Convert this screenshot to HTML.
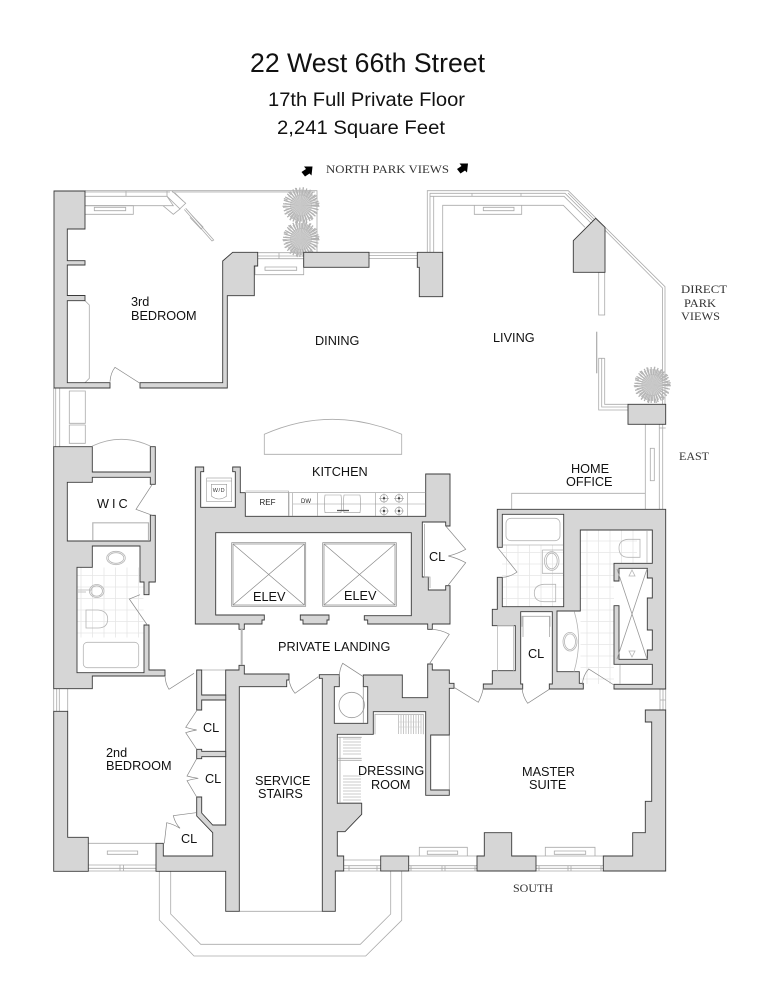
<!DOCTYPE html>
<html><head><meta charset="utf-8"><style>
html,body{margin:0;padding:0;background:#fff}
svg{display:block}
.w{fill:#d6d6d6;stroke:#3a3a3a;stroke-width:.9;fill-rule:evenodd}
.l{fill:none;stroke:#aaa;stroke-width:.8}
.d{fill:none;stroke:#888;stroke-width:.7}
.f{fill:#fff;stroke:#b5b5b5;stroke-width:.8}
.t{font-family:"Liberation Sans",sans-serif;font-size:12.7px;fill:#111}
.s{font-family:"Liberation Serif",serif;font-size:12px;fill:#333}
.k{fill:none;stroke:#bbb;stroke-width:.6}
</style></head><body>
<svg width="773" height="1000" viewBox="0 0 773 1000" xmlns="http://www.w3.org/2000/svg">
<defs>
<pattern id="tile" width="11.5" height="11.5" patternUnits="userSpaceOnUse"><path d="M0 .5H11.5M.5 0V11.5" stroke="#e6e6e6" stroke-width=".8" fill="none"/></pattern>
<g id="plant">
<circle r="11" fill="#d4d4d4"/>
<circle r="8" fill="none" stroke="#bdbdbd" stroke-width="16" stroke-dasharray=".8 .7"/>
<circle r="14" fill="none" stroke="#b0b0b0" stroke-width="8" stroke-dasharray="1 1.8"/>
<circle r="16.500" fill="none" stroke="#b5b5b5" stroke-width="4" stroke-dasharray="1.2 6"/>
</g>
</defs>
<rect width="773" height="1000" fill="#fff"/>

<!-- Titles -->
<text x="250" y="72" font-family="Liberation Sans,sans-serif" font-size="26.5" fill="#111" textLength="235" lengthAdjust="spacingAndGlyphs">22 West 66th Street</text>
<text x="268" y="106" font-family="Liberation Sans,sans-serif" font-size="19" fill="#111" textLength="197" lengthAdjust="spacingAndGlyphs">17th Full Private Floor</text>
<text x="277" y="134" font-family="Liberation Sans,sans-serif" font-size="19" fill="#111" textLength="168" lengthAdjust="spacingAndGlyphs">2,241 Square Feet</text>
<text class="s" x="326" y="173" textLength="123" lengthAdjust="spacingAndGlyphs">NORTH PARK VIEWS</text>
<polygon points="312.500,166.500 311.500,175.500 309.500,173.500 305,176.500 301.500,172 306,169 304,166.500" fill="#000"/>
<polygon points="468,163.500 467,172.500 465,170.500 460.500,173.500 457,169 461.500,166 459.500,163.500" fill="#000"/>
<text class="s" x="681" y="293" textLength="46" lengthAdjust="spacingAndGlyphs">DIRECT</text>
<text class="s" x="684" y="307" textLength="32" lengthAdjust="spacingAndGlyphs">PARK</text>
<text class="s" x="681" y="320" textLength="39" lengthAdjust="spacingAndGlyphs">VIEWS</text>
<text class="s" x="679" y="460">EAST</text>
<text class="s" x="513" y="892">SOUTH</text>

<!-- tile floors -->
<rect x="77.5" y="567.5" width="66" height="70" fill="url(#tile)"/>
<rect x="502" y="545" width="61.5" height="61.5" fill="url(#tile)"/>
<path d="M580.5 530H637V563H614V684H580.5Z" fill="url(#tile)"/>

<!-- North-west terrace and windows -->
<g class="l">
<path d="M171.7 190.7H317V252.3M172 192H315"/>
<path d="M85 190.7H171.7M85 192H170M85 196.3H167L173.3 205.7H85"/>
<path d="M126 191V196M167 191V196"/>
<path d="M85 205.7H133.3V214.3H85M94.3 207.3H125.7V210.7H94.3Z"/>
<path d="M167 196.3L180 209L173.3 214.3L163 205.7M171.7 190.7L185.7 203.3L179.3 209.3"/>
<path d="M175 193L183 201"/>
<path d="M185.7 208.3L213.7 240L212 241L184.3 209.5"/>
<path d="M192 215.5L203 227L201 229L190 217.5"/>
<path d="M257.7 252.7H303.7M257.7 256H303.7M257.7 258.7H303.7M279 253V258.7"/>
<path d="M255 266V274.7H303.7V258.7M265 267H296.7V270.3H265Z"/>
<path d="M369 252.7H417M369 255.5H417M369 258.5H417"/>
<path d="M427.3 252.3V190.7H568.3L665 286.7V404.3"/>
<path d="M430 252.3V193.3H565L604 232M662.5 404V288L568 193"/>
<path d="M433.7 252.3V196.3H564L593 225M430 196.3H433.7"/>
<path d="M442.7 252.3V205.3H563.3L585 227.3"/>
<path d="M474.3 205.3V214.3H521.7V205.3M483.3 207.3H514V210.7H483.3Z"/>
<path d="M472 193.3V196.3M521 193.3V196.3"/>
<rect x="598.7" y="272.3" width="6" height="42.7"/>
<path d="M604.7 358.3H598.7V410H628M604.7 358.3V404.3H628M601.7 358.5V407H628"/>
<path d="M645.3 424.3V509.3M659.3 424.3V509.3M662.7 424.3V509.3M659.3 428H665.7"/>
<rect x="650.3" y="448.3" width="4" height="32.4"/>
<path d="M511.7 509V493.3H645.3"/>
<path d="M264.3 454.3V434.3Q332 404.3 401.7 434.3V454.3H264.3Z"/>
<path d="M55.7 388V446.7M59.7 388V446.7M53.7 388V446.7"/>
<path d="M69.3 391H85.3V423.3H69.3ZM69.3 425H85.3V443.3H69.3Z"/>
<path d="M92.3 446Q121 432.6 150.3 446"/>
<path d="M53.7 689V711.3M56.7 689V711.3M59.3 689V711.3M67.7 689V711.3"/>
<path d="M88.3 843.3H156M107.3 851H137.7V854.3H107.3ZM88.3 865H156M88.3 868.3H156M88.3 871H156M120 865V871M123.5 865V871"/>
<path d="M159.3 871V920L194 956H365.7L401.7 920.3V871"/>
<path d="M170.7 871V914L200.7 944.3H360.3L390.7 914V871"/>
<path d="M239.3 911.3H322.3"/>
<path d="M201.7 670H225.7"/>
<path d="M344 860H380.7M344 865.7H380.7M344 868.3H380.7M344 871H380.7M349 865.7V871M377 865.7V871"/>
<path d="M408.7 856H477M408.7 865.7H477M408.7 868.3H477M408.7 871H477M411 865.7V871M442 865.7V871M445 865.7V871M475 865.7V871"/>
<path d="M536 856H603.3M536 865.7H603.3M536 868.3H603.3M536 871H603.3M539 865.7V871M568 865.7V871M571 865.7V871M601 865.7V871"/>
<path d="M419.3 856V847.3H467.3V856M427.3 851H457.7V854.3H427.3Z"/>
<path d="M545.3 856V847.3H595V856M554.3 851H585.7V854.3H554.3Z"/>
<path d="M660 689V710M663 689V710M665.7 689V710M660 700H665.7"/>
<path d="M430.7 735H449.3V790"/>
<path d="M85 300.7L89.3 305V378.3L85 382.7"/>
</g>
<path d="M596.7 331.7V373.3" stroke="#aaa" stroke-width="1.2" fill="none"/>

<!-- plants -->
<use href="#plant" x="301" y="205.5"/>
<use href="#plant" x="301" y="239"/>
<use href="#plant" x="652.300" y="385"/>

<!-- Walls -->
<path class="w" d="M54 191H85V229H67.3V260.7H85V265H67.3V295.5H85V300.7H67.3V382.7H110V388H54Z"/>
<path class="w" d="M140 382.7H222.7V261L232.7 252.3H257.7V266H254.3V295.7H227.3V388H140Z"/>
<rect class="w" x="303.7" y="252.3" width="65.3" height="15"/>
<path class="w" d="M417.3 252.3H442.7V296.7H419.3V267.3H417.3Z"/>
<path class="w" d="M595.7 218.3L605 227.3V272.3H573.3V240.7Z"/>
<rect class="w" x="628" y="404.3" width="37.7" height="20"/>

<path class="w" d="M53.7 446.7H92.3V472H150.3V446.7H155.3V484.3H150.3V477.3H92.3V482.3H67.3V541H150.3V515.3H155.3V582H149V594.7H144V582H140V546H92.3V567.3H77V672.7H144V625H149V670H165V676H92.3V688.7H53.7Z"/>

<path class="w" d="M195.3 624V467H203.7V471.7H200.7V507.3H235.3V471.7H232.7V467H240.3V492.7H245.3V516.3H425.7V474H450V526H445.7V522H422.3V577H428.3V590H445.7V585.7H450V624H432.3V629.3H427.7V624H367.7V620H364.3V615.7H411.3V532.7H215.7V615H264.3V620H262V624H244.3V629.3H239V624Z"/>
<path class="w" d="M300.3 615H329V620H327V624H303V620H300.3Z"/>

<path class="w" d="M225.7 670H239V665.3H244.3V674H289V680H286.7V686.7H239.3V911.3H225.7V871.3H156V843.3H163.3V856H212.7V832.7L196.7 816V797H201.7V813L212.7 825H225.7Z"/>
<path class="w" d="M196.7 670H201.7V695H225.7V700H201.7V710H196.7Z"/>
<path class="w" d="M196.7 749.3H201.7V751.3H225.7V756.7H201.7V758.7H196.7Z"/>
<path class="w" d="M53.7 711.3H67.7V837.3H88.3V871.3H53.7Z"/>

<path class="w" d="M319.3 674.7H339.3V686.7H334.3V723.3H367.7V686.7H363.3V675H402.3V697.7H427.7V664H432.3V670H449.3V683.3H454V688.3H449.3V735H430.7V790H449.3V795.3H425.7V711.7H373.3V734.3H337.3V803.3H361.7V814.3L345 831.7H337.3V856H343.7V871H335.3V911.3H322.3V678.3H319.3Z"/>

<rect class="w" x="380.7" y="856" width="28" height="15"/>
<path class="w" d="M477 871V856H484.3V832.7H511.7V856H536V871Z"/>
<path class="w" d="M645.3 710H665.7V871H603.3V856H632.7V832.7H645.3V801.3H651.7V722H645.3Z"/>

<path class="w" d="M497.3 509.3H665.7V689H614V684.3H652.3V664.3H614V605.7H619V659.3H647.3V650H652.3V630H647.3V598H652.3V578H647.3V568.3H619V581H614V563.3H652.3V530H580.3V611H557V671.7H579.3V683.3H583.3V689H549.3V684H552.3V611.7H520.7V684H522.7V689H483.3V684H492.3V670.7H515.3V625.7H492.3V609.3H497.3V577.3H502.3V606.7H563.7V514.3H502.3V547.3H497.3Z"/>

<!-- thick partition -->
<path d="M241.7 629V665" stroke="#b5b5b5" stroke-width="2" fill="none"/>
<path d="M92.8 540V522.8H148.5V540" stroke="#b5b5b5" stroke-width="1.2" fill="none"/>
<path d="M497.5 625.7V670.7" stroke="#bbb" stroke-width=".8" fill="none"/>
<path d="M497.5 625.7H513.5V670.7" stroke="#bbb" stroke-width=".8" fill="none"/>

<!-- Doors -->
<g class="d">
<path d="M110 381.7Q110.5 373 115 367.3L140 383.3"/>
<path d="M152.3 484.3L136 509.3L152.3 515.3"/>
<path d="M140 594.7L129.3 599L147.3 625"/>
<path d="M165 676Q165.5 684 169 689.3L194 673.3"/>
<path d="M445.7 526L465.7 549.3Q457 554 448.3 556Q457 558 465.7 562.7L448.3 585"/>
<path d="M432.3 629.3Q442 630 449.3 634.3L429.3 664"/>
<path d="M289 680Q290.5 688 295 693.3L318.3 676.7"/>
<path d="M339.3 676.7Q339.5 669 342.7 663.3L363.3 676.7"/>
<path d="M454 687.3L478.3 702.3Q482 695 483.3 688.3"/>
<path d="M522 688.3Q523 697 527.7 703.3L549.3 689.3"/>
<path d="M582.3 685Q583 675 588.7 669L614 685"/>
<path d="M497.3 547.3L517 572Q510 577 502.3 577.3"/>
<path d="M196.7 710.7L185.7 727.3Q191 729 196.7 730Q191 731 185.7 732.7L196.7 749.3"/>
<path d="M196.7 758.7L187 776Q192 777.5 198.3 778.3Q192 779 187 780.7L196.7 797"/>
<path d="M196 812.7L173.3 815.7Q175 823 180 828.3Q173 824 166.7 822.7L164.3 843.3"/>
</g>

<!-- Kitchen -->
<g class="k" style="stroke:#999">
<rect x="206.7" y="478" width="25" height="23.7"/>
<path d="M206.7 481H231.7"/>
<path d="M211.3 484.3H226.7V496Q219 502 211.3 496Z"/>
<path d="M245.3 492.7H425.7M245.5 491H288.5V516M292.7 492.7V516M317.7 492.7V516M289 492.7V516M292.7 504H425.7"/>
<path d="M375.7 492.7V516M407.3 492.7V516"/>
<path d="M325 495H341Q342 503 341 512.7H325Q324 503 325 495ZM344 495H360Q361 503 360 512.7H344Q343 503 344 495Z"/>
<circle cx="384" cy="498.3" r="3.8"/><circle cx="399" cy="498.3" r="3.8"/>
<circle cx="384" cy="511" r="3.8"/><circle cx="399" cy="511" r="3.8"/>
<path d="M379 498.3H389M384 493.5V503M394 498.3H404M399 493.5V503M379 511H389M384 506V516M394 511H404M399 506V516"/>
</g>
<g fill="#444"><circle cx="384" cy="498.3" r="1.2"/><circle cx="399" cy="498.3" r="1.2"/><circle cx="384" cy="511" r="1.2"/><circle cx="399" cy="511" r="1.2"/></g>
<path d="M337 510.5H349" stroke="#555" stroke-width="1.3"/>
<text x="219" y="492" text-anchor="middle" font-family="Liberation Sans,sans-serif" font-size="5.5" letter-spacing=".6" fill="#333">W/D</text>
<text x="267.5" y="505" text-anchor="middle" font-family="Liberation Sans,sans-serif" font-size="8" fill="#222">REF</text>
<text x="306" y="503" text-anchor="middle" font-family="Liberation Sans,sans-serif" font-size="6" fill="#222">DW</text>

<!-- Elevators -->
<g fill="none" stroke="#888" stroke-width=".7">
<rect x="231.7" y="542.7" width="74" height="63.6"/><rect x="233" y="544" width="71.4" height="61"/>
<path d="M233 544L304.4 605M304.4 544L233 605"/>
<rect x="322.7" y="542.7" width="73.6" height="63.6"/><rect x="324" y="544" width="71" height="61"/>
<path d="M324 544L395 605M395 544L324 605"/>
</g>

<!-- Bath fixtures -->
<g class="f" style="fill:none">
<ellipse cx="116" cy="558" rx="9.3" ry="6.7"/><ellipse cx="116" cy="558" rx="7.8" ry="5.3"/>
<path d="M78 592H86M78 590H92"/>
<ellipse cx="96.7" cy="591" rx="7.3" ry="6.5"/><ellipse cx="96.7" cy="591" rx="5.8" ry="5.2"/>
<path d="M86 610H98Q107.7 611 107.7 619Q107.7 628 98 628H86Z"/>
<rect x="83.3" y="642.3" width="55.4" height="25.4" rx="4"/>
<rect x="506" y="518.3" width="54" height="22.4" rx="5"/>
<path d="M502.5 545H563M542.3 550H563.3M542.3 550V573.3H563.3"/>
<ellipse cx="551.7" cy="561" rx="7.3" ry="9.3"/><ellipse cx="551.7" cy="561" rx="5.5" ry="7.8"/>
<path d="M555.7 584.3H544Q534.3 585 534.3 593Q534.3 601.5 544 601.7H555.7Z"/>
<path d="M640 539.3H628Q619 540 619 548Q619 557 628 557.3H640Z"/>
<path d="M647 531V563"/>
<path d="M617 569L647 659M647 569L617 659" stroke="#999"/>
<path d="M632 570L635 576H629Z M632 657L635 651H629Z"/>
<ellipse cx="570" cy="641.7" rx="7" ry="9.3"/><ellipse cx="570" cy="641.7" rx="5.5" ry="7.8"/>
<path d="M574.3 611.7Q583 641 574 671.7"/>
<path d="M620 684V665"/>
<path d="M522 626.7V616.3H550V626.7M523 637V616M549.5 637V616" stroke="#aaa"/>
<circle cx="351.7" cy="705" r="12.7" stroke="#999"/>
<path d="M363.3 686.7V723" stroke="#999"/>
</g>

<!-- closet inner lines -->
<g class="l">
<path d="M424.5 524V577H430V588"/>
<path d="M375 734.3V714.3H423.3V734.3"/>
<path d="M338.3 737.3H361.7M338.3 802.7H361.7M340 737.3V802.7M338.3 758.3H361.7M338.3 760.3H361.7"/>
</g>
<path d="M398.5 715V734M401 715V734M403.5 715V734M406 715V734M408.5 715V734M411 715V734M413.5 715V734M416 715V734M418.5 715V734M421 715V734" stroke="#bbb" stroke-width=".8" fill="none"/>
<path d="M398 722H421.5M398 727H421.5" stroke="#ccc" stroke-width=".6" fill="none"/>
<path d="M343 739H361M343 742H361M343 745H361M343 748H361M343 751H361M343 754H361M343 776H361M343 779H361M343 782H361M343 785H361M343 788H361M343 791H361M343 794H361M343 797H361M343 800H361" stroke="#bbb" stroke-width=".8" fill="none"/>

<!-- Room labels -->
<text class="t" x="131" y="306">3rd</text>
<text class="t" x="131" y="320">BEDROOM</text>
<text class="t" x="315" y="345">DINING</text>
<text class="t" x="493" y="342">LIVING</text>
<text class="t" x="312" y="476">KITCHEN</text>
<text class="t" x="571" y="473">HOME</text>
<text class="t" x="566" y="486">OFFICE</text>
<text class="t" x="97" y="508" letter-spacing="3">WIC</text>
<text class="t" x="253" y="601">ELEV</text>
<text class="t" x="344" y="600">ELEV</text>
<text class="t" x="429" y="561">CL</text>
<text class="t" x="528" y="658">CL</text>
<text class="t" x="278" y="651">PRIVATE LANDING</text>
<text class="t" x="106" y="757">2nd</text>
<text class="t" x="106" y="770">BEDROOM</text>
<text class="t" x="203" y="732">CL</text>
<text class="t" x="205" y="783">CL</text>
<text class="t" x="181" y="843">CL</text>
<text class="t" x="255" y="785">SERVICE</text>
<text class="t" x="258" y="798">STAIRS</text>
<text class="t" x="358" y="775">DRESSING</text>
<text class="t" x="371" y="789">ROOM</text>
<text class="t" x="522" y="776">MASTER</text>
<text class="t" x="529" y="789">SUITE</text>
</svg>
</body></html>
